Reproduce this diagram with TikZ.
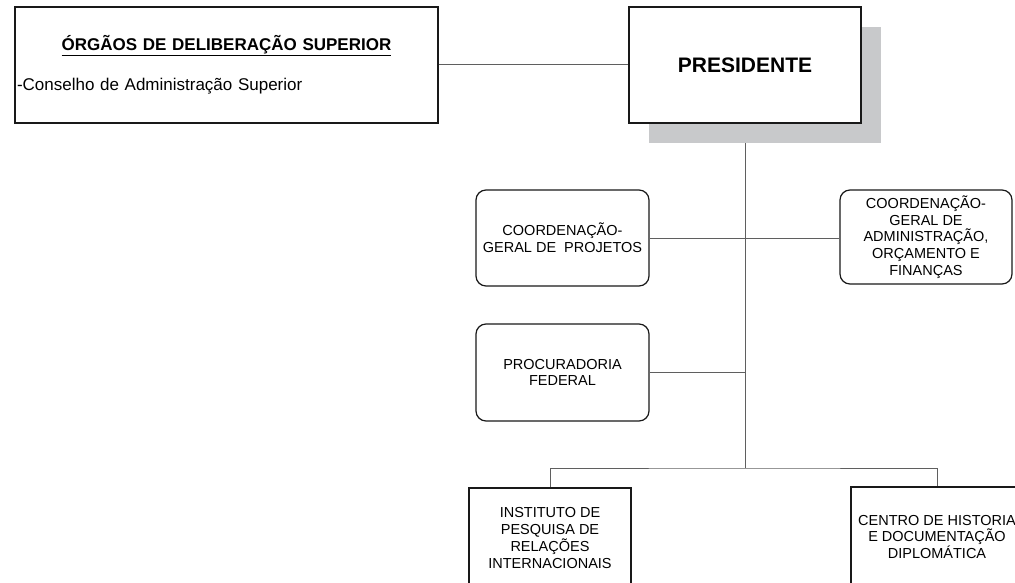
\documentclass[tikz,border=0pt]{standalone}
\usepackage{fontspec}
\setmainfont{Liberation Sans}
\usetikzlibrary{positioning,shadows,backgrounds}
\definecolor{shadowgray}{RGB}{200,201,203}
\definecolor{linegray}{RGB}{95,95,95}

\begin{document}
\begin{tikzpicture}[x=1pt,y=-1pt]
    \tikzset{
      boxnode/.style={rectangle,draw=black!90,line width=1.2pt,fill=white,inner sep=2pt,align=center,font=\fontsize{14.5}{16.8}\selectfont},
      roundnode/.style={boxnode,rounded corners=10pt,minimum width=173pt,minimum height=96pt},
      link/.style={draw=linegray,line width=1pt}
    }
    \clip (0,0) rectangle (1015,583);
    \node[boxnode,minimum width=423pt,minimum height=116pt,text width=419pt,font=\fontsize{17}{20}\selectfont](orgaos) at (226.5,65){\underline{\textbf{ÓRGÃOS DE DELIBERAÇÃO SUPERIOR}}\\[20pt]\makebox[\linewidth][l]{-Conselho de Administração Superior}};
    \node[boxnode,minimum width=232pt,minimum height=116pt,font=\bfseries\fontsize{21}{25}\selectfont,drop shadow={shadow xshift=20pt,shadow yshift=-20pt,fill=shadowgray,opacity=1}](pres) at (745,65){PRESIDENTE};
    \node[roundnode](cgp) at (562.5,238){COORDENAÇÃO-\\GERAL DE\ \ PROJETOS};
    \node[roundnode,minimum width=172pt,minimum height=94pt](cgaof) at (926,237){COORDENAÇÃO-\\GERAL DE\\ADMINISTRAÇÃO,\\ORÇAMENTO E\\FINANÇAS};
    \node[roundnode,minimum height=97pt](proc) at (562.5,372.5){PROCURADORIA\\FEDERAL};
    \node[boxnode,minimum width=162pt,minimum height=100pt](ipri) at (550,538){INSTITUTO DE\\PESQUISA DE\\RELAÇÕES\\INTERNACIONAIS};
    \node[boxnode,minimum width=172pt,minimum height=100pt](chdd) at (937,537){CENTRO DE HISTORIA\\E DOCUMENTAÇÃO\\DIPLOMÁTICA};
    \coordinate (split) at (pres.south |- 0,468);

    \begin{scope}[on background layer]
      \draw[link](pres.south) -- (split);
    \end{scope}
    \draw[link](orgaos.east) -- (pres.west);
    \draw[link](cgp.east) -- (cgp.east -| cgaof.west);
    \draw[link](proc.east) -- (proc.east -| pres.south);
    \draw[link](ipri.north) |- (split) -| (chdd.north);

  \end{tikzpicture}
\end{document}
